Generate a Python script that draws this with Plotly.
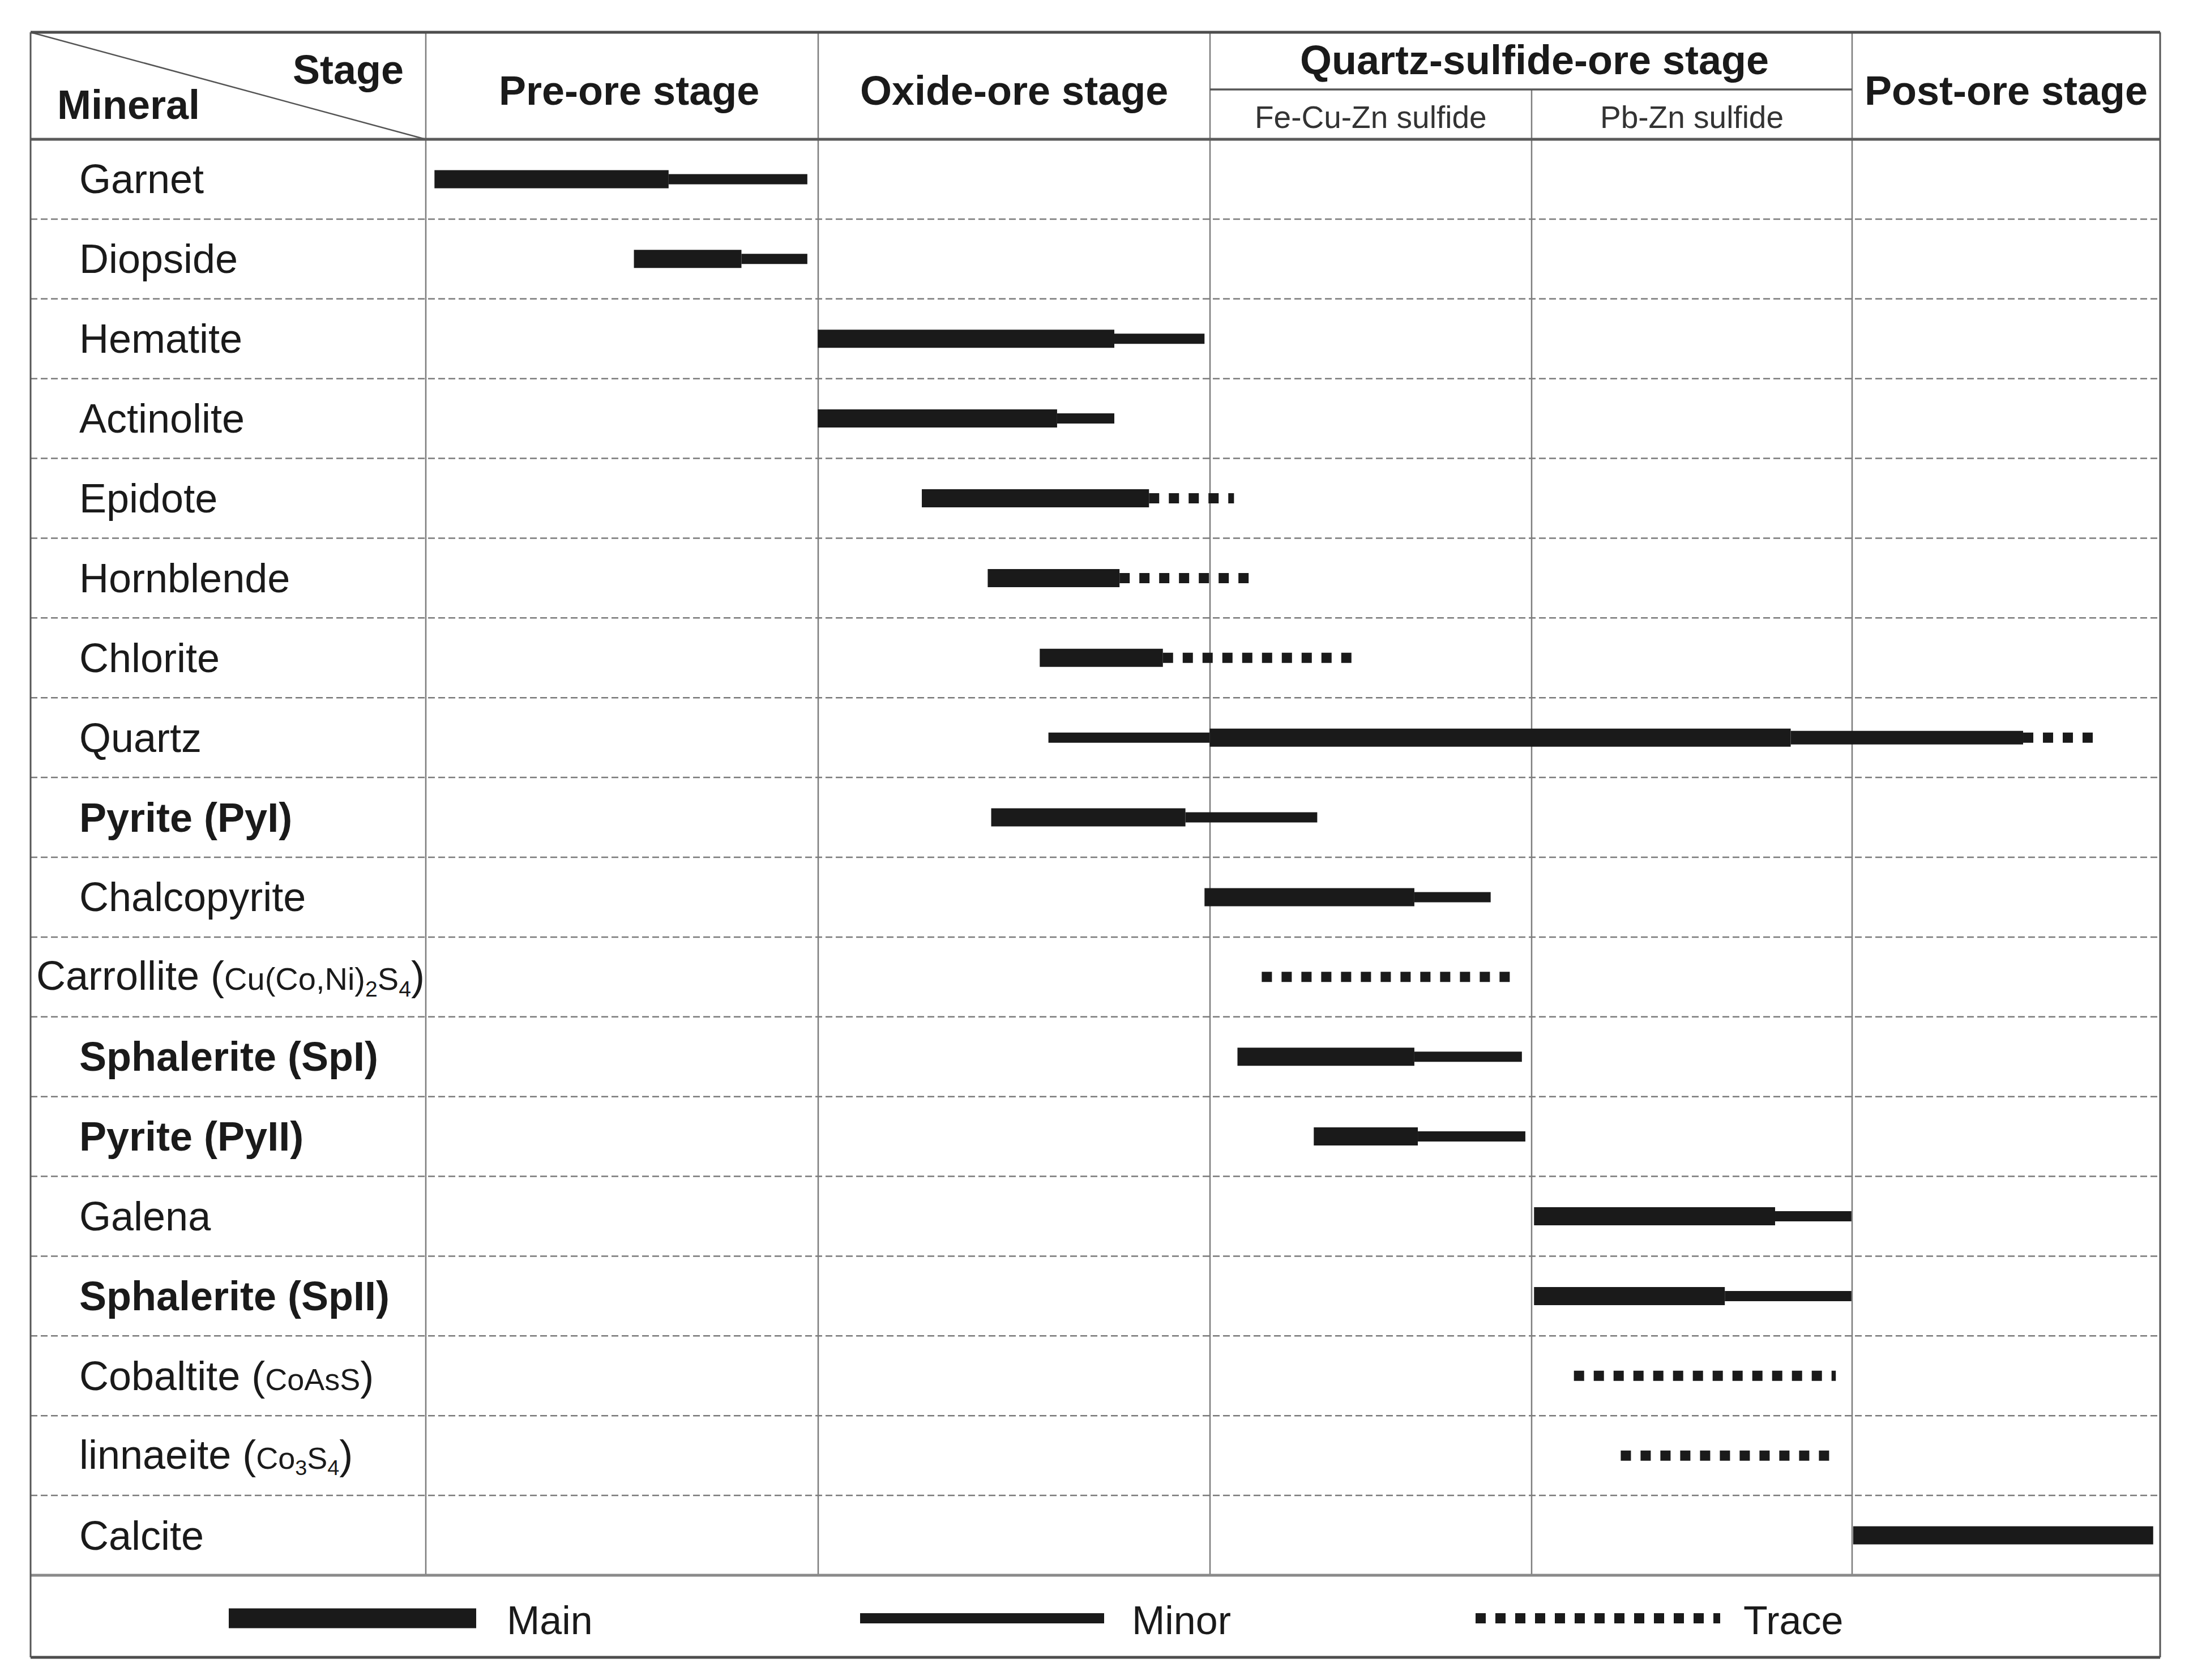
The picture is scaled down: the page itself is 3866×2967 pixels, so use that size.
import plotly.graph_objects as go

# ---------------- data ----------------
minerals = [
    "Garnet", "Diopside", "Hematite", "Actinolite", "Epidote", "Hornblende",
    "Chlorite", "Quartz", "<b>Pyrite (PyI)</b>", "Chalcopyrite",
    "Carrollite (<span style='font-size:56px'>Cu(Co,Ni)<sub>2</sub>S<sub>4</sub></span>)",
    "<b>Sphalerite (SpI)</b>", "<b>Pyrite (PyII)</b>", "Galena",
    "<b>Sphalerite (SpII)</b>",
    "Cobaltite (<span style='font-size:54px'>CoAsS</span>)",
    "linnaeite (<span style='font-size:54px'>Co<sub>3</sub>S<sub>4</sub></span>)",
    "Calcite",
]

stage_names = ["Pre-ore stage", "Oxide-ore stage", "Quartz-sulfide-ore stage", "Post-ore stage"]
substage_names = ["Fe-Cu-Zn sulfide", "Pb-Zn sulfide"]
# stage boundaries on a relative time scale (0-100)
stage_bounds = [0.0, 22.6, 45.2, 63.8, 82.2, 100.0]

# segments: mineral index, start, end, abundance
seg_mineral = [0, 0, 1, 1, 2, 2, 3, 3, 4, 4, 5, 5, 6, 6,
               7, 7, 7, 7, 8, 8, 9, 9, 10, 11, 11, 12, 12,
               13, 13, 14, 14, 15, 16, 17]
seg_start = [0.5, 14.0, 12.0, 18.2, 22.6, 39.7, 22.6, 36.4, 28.6, 41.7, 32.4, 40.0, 35.4, 42.5,
             35.9, 45.2, 78.7, 92.1, 32.6, 43.8, 44.9, 57.0, 48.2, 46.8, 57.0, 51.2, 57.2,
             63.9, 77.8, 63.9, 74.9, 66.2, 68.9, 82.3]
seg_end = [14.0, 22.0, 18.2, 22.0, 39.7, 44.9, 36.4, 39.7, 41.7, 46.6, 40.0, 47.6, 42.5, 53.4,
           45.2, 78.7, 92.1, 96.2, 43.8, 51.4, 57.0, 61.4, 62.6, 57.0, 63.2, 57.2, 63.4,
           77.8, 82.2, 74.9, 82.2, 81.3, 81.1, 99.6]
seg_type = ["Main", "Minor", "Main", "Minor", "Main", "Minor", "Main", "Minor", "Main", "Trace",
            "Main", "Trace", "Main", "Trace",
            "Minor", "Main", "Minor", "Trace", "Main", "Minor", "Main", "Minor", "Trace",
            "Main", "Minor", "Main", "Minor",
            "Main", "Minor", "Main", "Minor", "Trace", "Trace", "Main"]

legend_labels = ["Main", "Minor", "Trace"]

# ---------------- layout geometry ----------------
W, H = 3866, 2967
OFF = 8  # page body margin
FW, FH = W - 2 * OFF, H - 2 * OFF
def px(x):
    return (x - OFF) / FW
def py(y):
    return 1 - (y - OFF) / FH

L, R = 54, 3815
TOP, HB, BB, LB = 57, 246, 2782, 2927
SUB_Y = 158

INK = "#1a1a1a"
FONT = "Liberation Sans, Arial, sans-serif"
styles = {
    "Main": dict(width=32, dash="solid"),
    "Minor": dict(width=18, dash="solid"),
    "Trace": dict(width=18, dash="18px,17px"),
}

fig = go.Figure()

for m, s, e, t in zip(seg_mineral, seg_start, seg_end, seg_type):
    st = styles[t]
    w = st["width"]
    # the late quartz (minor) segment is drawn a bit heavier in the original
    if m == 7 and t == "Minor" and s > stage_bounds[2]:
        w = 24
    fig.add_trace(go.Scatter(
        x=[s, e], y=[m, m], mode="lines",
        line=dict(color=INK, width=w, dash=st["dash"]),
        hoverinfo="skip", showlegend=False,
    ))

n = len(minerals)
shapes = []
def pline(x0, y0, x1, y1, color="#777777", width=2.5, dash="solid", layer="below"):
    shapes.append(dict(type="line", xref="paper", yref="paper",
                       x0=px(x0), y0=py(y0), x1=px(x1), y1=py(y1),
                       line=dict(color=color, width=width, dash=dash), layer=layer))

# row separators (dashed)
for i in range(n - 1):
    shapes.append(dict(type="line", xref="paper", yref="y",
                       x0=px(L), x1=px(R), y0=i + 0.5, y1=i + 0.5,
                       line=dict(color="#7a7a7a", width=2.5, dash="12px,6px"), layer="below"))

# column lines
for c in [752, 1445, 2137, 3271]:
    pline(c, TOP, c, BB, color="#7d7d7d", width=2.5)
pline(2705, SUB_Y, 2705, BB, color="#7d7d7d", width=2.5)
pline(2137, SUB_Y, 3271, SUB_Y, color="#555555", width=3.5)
# diagonal
pline(L, TOP, 752, HB, color="#555555", width=2.5)
# outer frame and major horizontals
pline(L, TOP, R, TOP, color="#4d4d4d", width=5)
pline(L, HB, R, HB, color="#5a5a5a", width=5)
pline(L, BB, R, BB, color="#8a8a8a", width=5)
pline(L, LB, R, LB, color="#4d4d4d", width=5)
pline(L, TOP, L, LB, color="#555555", width=3)
pline(R, TOP, R, LB, color="#555555", width=3)

# legend samples
leg_x = [(404, 841), (1519, 1950), (2606, 3038)]
leg_text_x = [893, 1997, 3077]
LEG_Y = 2858
for lab, (x0, x1) in zip(legend_labels, leg_x):
    st = styles[lab]
    w = 35 if lab == "Main" else st["width"]
    shapes.append(dict(type="line", xref="paper", yref="paper",
                       x0=px(x0), x1=px(x1), y0=py(LEG_Y), y1=py(LEG_Y),
                       line=dict(color=INK, width=w, dash=st["dash"]), layer="above"))

annotations = []
def ann(text, x, y, size=72, xanchor="center", color=INK):
    annotations.append(dict(text=text, x=px(x), y=py(y),
                            xref="paper", yref="paper", showarrow=False,
                            xanchor=xanchor, yanchor="middle",
                            font=dict(family=FONT, size=size, color=color)))

# header texts
ann("<b>Stage</b>", 515, 123, xanchor="left")
ann("<b>Mineral</b>", 99, 185, xanchor="left")
stage_cols = [(752, 1445), (1445, 2137), (2137, 3271), (3271, R)]
stage_dx = [12, 0, 6, 0]
for name, (a, b), dx in zip(stage_names, stage_cols, stage_dx):
    ycen = 106 if "Quartz" in name else 160
    ann("<b>" + name + "</b>", (a + b) / 2 + dx, ycen)
for name, (a, b) in zip(substage_names, [(2137, 2705), (2705, 3271)]):
    ann(name, (a + b) / 2, 207, size=55, color="#333333")

# mineral labels
for i, m in enumerate(minerals):
    xl = 62 if m.startswith("Carrollite") else 138
    annotations.append(dict(text=m, x=px(xl), y=i, xref="paper", yref="y",
                            showarrow=False, xanchor="left", yanchor="middle",
                            font=dict(family=FONT, size=72, color=INK)))

# legend labels
for lab, tx in zip(legend_labels, leg_text_x):
    ann(lab, tx, 2862, size=70, xanchor="left")

fig.update_layout(
    width=FW, height=FH,
    margin=dict(l=0, r=0, t=0, b=0),
    paper_bgcolor="white", plot_bgcolor="rgba(0,0,0,0)",
    showlegend=False,
    xaxis=dict(domain=[px(752), px(R)], range=[stage_bounds[0], stage_bounds[-1]],
               visible=False, fixedrange=True),
    yaxis=dict(domain=[py(BB), py(HB)], range=[n - 0.5, -0.5],
               visible=False, fixedrange=True),
    shapes=shapes, annotations=annotations,
)

fig.write_html("out.html")
